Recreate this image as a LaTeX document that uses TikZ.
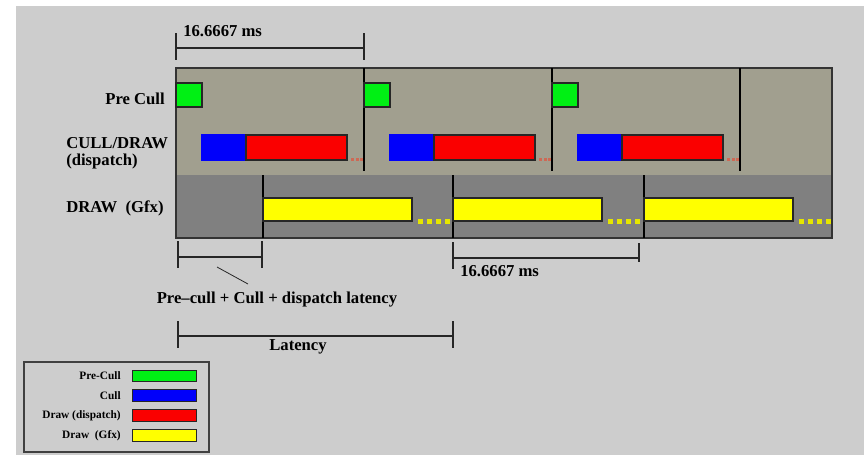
\documentclass[tikz,border=0pt]{standalone}
\usepackage{fontspec}
\setmainfont{Liberation Serif}
\definecolor{pagegray}{RGB}{205,205,205}
\definecolor{cpupane}{RGB}{161,159,143}
\definecolor{gpupane}{RGB}{128,128,128}
\definecolor{precull}{RGB}{0,240,20}
\definecolor{cull}{RGB}{0,0,250}
\definecolor{dispatch}{RGB}{250,0,0}
\definecolor{gfx}{RGB}{255,255,0}
\definecolor{reddot}{RGB}{205,105,85}
\tikzset{
  lbl/.style={font=\bfseries\fontsize{12.5}{12.5}\selectfont, inner sep=0pt},
  keylbl/.style={font=\bfseries\fontsize{8.5}{9}\selectfont, inner sep=0pt, anchor=east},
  bar/.style={draw=black!85, line width=0.8pt},
  dim/.style={line width=0.8pt, black!85},
  frameline/.style={line width=0.9pt, black}
}
\begin{document}
\begin{tikzpicture}[x=0.75pt,y=-0.75pt]
\useasboundingbox (0,0) rectangle (864,455);
\fill[white] (0,0) rectangle (864,455);
\fill[pagegray] (16,6) rectangle (864,455);

\fill[cpupane] (176,68) rectangle (832,175);
\fill[gpupane] (176,175) rectangle (832,238);
\draw[line width=0.9pt, black!80] (176,68) rectangle (832,238);

\foreach \s in {176,364,552}{
  \draw[bar, fill=precull] (\s,83) rectangle ++(26,24);
  \draw[bar, fill=cull, draw=cull] (\s+26,135) rectangle ++(44,25);
  \draw[bar, fill=dispatch] (\s+70,135) rectangle ++(101,25);
  \foreach \d in {0,4.5,9}
    \fill[reddot] (\s+175+\d,157.5) rectangle ++(3,3.5);
  \draw[frameline] (\s+188,68) -- (\s+188,171);
}
\foreach \g in {263,453,644}{
  \draw[frameline] (\g,175) -- (\g,238);
  \draw[bar, fill=gfx] (\g,198) rectangle ++(149,23);
  \foreach \d in {0,9,18,27}
    \fill[gfx!90!black] (\g+155+\d,219) rectangle ++(4.5,5);
}

\node[lbl, anchor=east] (pre) at (165,99) {Pre Cull};
\node[lbl, anchor=west, align=left] (cd) at (66,153) {CULL/DRAW\\(dispatch)};
\node[lbl] (gf) at (115,208) {DRAW\ \ (Gfx)};

\coordinate (t1a) at (176,33); \coordinate (t1b) at (176,60);
\coordinate (t2a) at (364,33); \coordinate (t2b) at (364,60);
\draw[dim] (t1a) -- (t1b) (t2a) -- (t2b);
\draw[dim] (176,48) -- (364,48);
\node[lbl, anchor=west] (ms1) at (183,31.5) {16.6667 ms};

\coordinate (l1a) at (178,241); \coordinate (l1b) at (178,268);
\coordinate (l2a) at (262,241); \coordinate (l2b) at (262,268);
\draw[dim] (l1a) -- (l1b) (l2a) -- (l2b);
\draw[dim] (178,257) -- (262,257);
\coordinate (sl1) at (217,267); \coordinate (sl2) at (248,284);
\draw[dim, line width=0.6pt] (sl1) -- (sl2);
\node[lbl] (pcl) at (277,300) {Pre--cull + Cull + dispatch latency};

\coordinate (r1a) at (453,242); \coordinate (r1b) at (453,269);
\coordinate (r2a) at (639,243); \coordinate (r2b) at (639,262);
\draw[dim] (r1a) -- (r1b) (r2a) -- (r2b);
\draw[dim] (453,258) -- (639,258);
\node[lbl, anchor=west] (ms2) at (460,271) {16.6667 ms};

\coordinate (a1) at (178,321); \coordinate (a2) at (178,348);
\coordinate (b1) at (453,321); \coordinate (b2) at (453,348);
\draw[dim] (a1) -- (a2) (b1) -- (b2);
\draw[dim] (178,336) -- (453,336);
\node[lbl] (lat) at (298,347) {Latency};

\draw[line width=0.8pt, black!75, fill=pagegray] (24,362) rectangle (209,452);
\foreach \c/\t/\y in {precull/Pre-Cull/370, cull/Cull/389.5, dispatch/Draw (dispatch)/409.5, gfx/Draw\ \ (Gfx)/429.5}{
  \draw[bar, line width=0.6pt, fill=\c] (132,\y) rectangle ++(64,11.5);
  \node[keylbl] at (121,\y+6) {\t};
}
\end{tikzpicture}
\end{document}
